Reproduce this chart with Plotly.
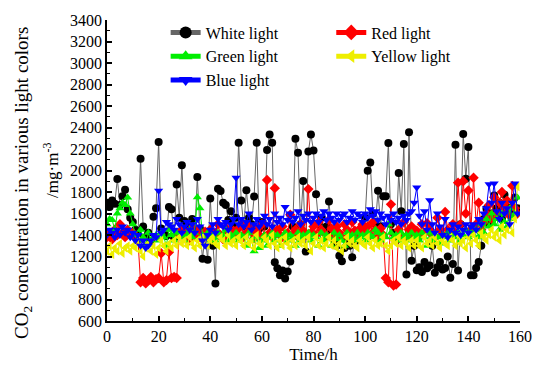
import plotly.graph_objects as go

hours = list(range(0, 160))

white = [1700,1660,1720,1690,1920,1680,1760,1820,1640,1560,
         1520,1450,1400,2110,1480,1380,1420,1340,1570,1650,
         2265,1460,1430,1390,1660,1640,1370,1870,1560,2050,
         1530,1480,1450,1550,1400,1940,1460,1180,1400,1170,
         1740,1300,950,1830,1810,1700,1680,1540,1620,1480,
         1560,2258,1720,1480,1817,1560,1500,1757,2258,1460,
         1520,1480,2190,2334,2258,1147,1090,1026,1070,996,
         1060,1153,1480,2295,2165,1500,1902,1246,2177,2334,
         2186,1780,1500,1560,1450,1480,1712,1420,1350,1300,
         1207,1156,1280,1350,1300,1192,1400,1350,1420,1479,
         1560,1998,2074,1600,1500,1811,1480,1760,1760,2256,
         1500,1420,1350,1977,1622,2247,1032,2355,1160,1300,
         1071,1100,1056,1150,1090,1117,1300,1050,1101,1150,
         1080,1092,1200,1002,1130,2240,1070,1500,2340,1923,
         2219,1026,1026,1092,1150,1300,1550,1645,1500,1600,
         1767,1650,1700,1550,1775,1650,1654,1600,1750,1650]

red = [1380,1420,1360,1450,1400,1500,1420,1380,1450,1400,
       1420,1380,1350,960,1000,950,980,1010,960,990,
       1000,1230,960,980,1240,1000,1010,1000,1400,1450,
       1380,1420,1350,1470,1400,1440,1380,1360,1430,1400,
       1450,1380,1420,1500,1400,1360,1470,1420,1380,1440,
       1400,1460,1500,1380,1420,1480,1430,1370,1450,1400,
       1500,1380,1911,1420,1380,1836,1450,1400,1480,1360,
       1420,1588,1400,1450,1380,1500,1440,1400,1827,1420,
       1480,1400,1520,1450,1420,1380,1540,1460,1400,1480,
       1420,1380,1500,1450,1400,1520,1440,1380,1460,1500,
       1420,1480,1400,1520,1450,1380,1460,1400,1000,960,
       1685,930,940,1450,1400,1520,1380,1450,1480,1400,
       1440,1380,1500,1420,1509,1450,1400,1380,1560,1450,
       1400,1615,1450,1380,1500,1420,1887,1500,1900,1600,
       1814,1450,1932,1500,1700,1450,1520,1600,1680,1550,
       1751,1600,1700,1800,1650,1720,1580,1857,1650,1600]

green = [1500,1550,1540,1450,1600,1650,1700,1680,1750,1600,
         1500,1400,1350,1450,1380,1300,1420,1350,1380,1400,
         1350,1420,1380,1300,1450,1400,1350,1420,1380,1400,
         1350,1400,1450,1380,1420,1751,1650,1400,1350,1420,
         1380,1400,1350,1420,1380,1400,1450,1350,1400,1380,
         1420,1350,1400,1380,1300,1420,1350,1250,1380,1280,
         1350,1400,1300,1380,1420,1350,1400,1300,1380,1420,
         1350,1400,1380,1300,1420,1350,1400,1380,1420,1350,
         1400,1380,1300,1420,1350,1400,1380,1300,1420,1360,
         1400,1350,1300,1420,1380,1400,1350,1420,1380,1400,
         1350,1420,1400,1380,1450,1420,1350,1400,1380,1500,
         1420,1380,1400,1350,1420,1380,1400,1350,1420,1380,
         1400,1350,1420,1380,1300,1420,1350,1400,1380,1320,
         1400,1380,1420,1350,1400,1380,1420,1350,1400,1450,
         1380,1420,1400,1450,1380,1500,1420,1550,1480,1600,
         1500,1550,1450,1600,1520,1480,1650,1550,1600,1750]

yellow = [1250,1300,1220,1280,1250,1320,1230,1280,1300,1250,
          1300,1280,1350,1250,1200,1280,1320,1250,1300,1220,
          1280,1350,1300,1250,1320,1280,1350,1300,1380,1320,
          1350,1300,1380,1320,1280,1350,1300,1380,1330,1300,
          1350,1380,1320,1300,1380,1350,1300,1400,1320,1350,
          1300,1380,1340,1300,1380,1320,1350,1280,1400,1320,
          1300,1380,1350,1300,1400,1320,1280,1350,1300,1380,
          1320,1280,1350,1300,1380,1320,1350,1300,1380,1250,
          1320,1380,1300,1350,1280,1320,1380,1300,1350,1280,
          1320,1250,1300,1380,1320,1350,1300,1280,1350,1320,
          1300,1380,1320,1280,1350,1300,1320,1380,1300,1250,
          1300,1350,1320,1380,1300,1350,1320,1280,1350,1300,
          1350,1300,1280,1380,1320,1350,1300,1380,1320,1280,
          1350,1320,1300,1380,1350,1300,1400,1320,1350,1280,
          1380,1320,1400,1350,1300,1420,1380,1350,1400,1450,
          1380,1420,1350,1480,1400,1450,1500,1420,1550,1850]

blue = [1400,1450,1420,1380,1450,1400,1480,1420,1450,1380,
        1420,1350,1400,1300,1350,1280,1300,1350,1400,1380,
        1811,1420,1450,1520,1500,1480,1450,1550,1500,1420,
        1480,1520,1450,1500,1420,1550,1480,1350,1300,1400,
        1450,1500,1420,1550,1500,1480,1520,1450,1500,1550,
        1932,1500,1550,1480,1520,1600,1450,1500,1550,1480,
        1520,1580,1500,1550,1480,1600,1520,1560,1500,1660,
        1540,1600,1520,1560,1620,1500,1580,1540,1600,1520,
        1560,1600,1520,1580,1620,1540,1600,1560,1520,1600,
        1540,1580,1600,1520,1560,1620,1540,1600,1580,1520,
        1600,1560,1640,1580,1620,1540,1600,1560,1500,1580,
        1540,1600,1520,1560,1500,1580,1540,1600,1620,1700,
        1842,1580,1500,1620,1450,1724,1500,1420,1600,1480,
        1400,1550,1380,1450,1500,1420,1480,1400,1450,1500,
        1420,1480,1500,1450,1550,1500,1600,1650,1872,1700,
        1880,1620,1550,1700,1600,1650,1500,1700,1880,1600]

# (name, values, marker colour, line colour, symbol, legend column)
series = [
    ("White light", white, "black", "#666666", "circle", "legend"),
    ("Red light", red, "#ff0000", "#ff0000", "diamond", "legend2"),
    ("Green light", green, "#00ee00", "#00ee00", "triangle-up", "legend"),
    ("Yellow light", yellow, "#eeee00", "#eeee00", "triangle-left", "legend2"),
    ("Blue light", blue, "#0000ff", "#0000ff", "triangle-down", "legend"),
]

FF = "Times New Roman, Liberation Serif, serif"
FS = 16
fig = go.Figure()
for name, vals, mc, lc, sym, lg in series:
    fig.add_trace(go.Scatter(
        x=hours, y=vals, name=name, mode="lines+markers", legend=lg,
        line=dict(color=lc, width=1),
        marker=dict(color=mc, symbol=sym, size=8, line=dict(width=0)),
    ))

leg_common = dict(orientation="v", yanchor="top", xanchor="left",
                  bgcolor="rgba(0,0,0,0)", font=dict(size=16, family=FF),
                  tracegroupgap=0, itemsizing="constant", borderwidth=0)

fig.update_layout(
    width=544, height=371,
    margin=dict(l=107, r=20, t=18, b=44),
    paper_bgcolor="white", plot_bgcolor="white",
    font=dict(family=FF, size=FS, color="black"),
    showlegend=True,
    legend=dict(x=0.142, y=1.015, **leg_common),
    legend2=dict(x=0.543, y=1.015, **leg_common),
    xaxis=dict(
        range=[0, 160], tickvals=list(range(0, 161, 20)),
        showgrid=False, zeroline=False,
        showline=True, linecolor="black", linewidth=1.5,
        ticks="inside", ticklen=5, tickwidth=1.5, tickcolor="black",
        minor=dict(dtick=10, ticks="inside", ticklen=3, tickwidth=1.2, tickcolor="black"),
        tickfont=dict(size=FS, family=FF),
        title=dict(text="Time/h", font=dict(size=17, family=FF), standoff=2),
    ),
    yaxis=dict(
        range=[600, 3400], tickvals=list(range(600, 3401, 200)),
        showgrid=False, zeroline=False,
        showline=True, linecolor="black", linewidth=1.5,
        ticks="inside", ticklen=5, tickwidth=1.5, tickcolor="black",
        minor=dict(dtick=100, ticks="inside", ticklen=3, tickwidth=1.2, tickcolor="black"),
        tickfont=dict(size=FS, family=FF),
    ),
    annotations=[
        dict(text="CO<sub>2</sub> concentration in various light colors",
             textangle=-90, xref="paper", yref="paper", x=-0.205, y=0.46,
             xanchor="center", yanchor="middle", showarrow=False,
             font=dict(size=19, family=FF)),
        dict(text="/mg·m<sup>-3</sup>",
             textangle=-90, xref="paper", yref="paper", x=-0.137, y=0.5,
             xanchor="center", yanchor="middle", showarrow=False,
             font=dict(size=17, family=FF)),
    ],
)

fig.write_html("out.html")
